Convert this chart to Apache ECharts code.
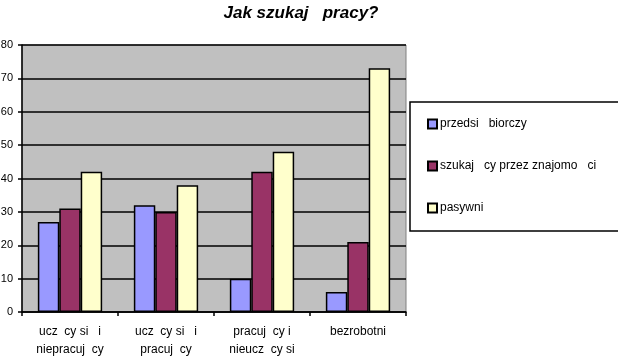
<!DOCTYPE html>
<html><head><meta charset="utf-8">
<script src="https://cdn.jsdelivr.net/npm/echarts@6/dist/echarts.min.js"></script>
<style>html,body{margin:0;padding:0;background:#fff}#c{width:618px;height:357px}</style>
</head><body><div id="c"></div>
<script>
var categories = ['ucz  cy si   i\nniepracuj  cy', 'ucz  cy si   i\npracuj  cy', 'pracuj  cy i\nnieucz  cy si', 'bezrobotni'];
var seriesNames = ['przedsi   biorczy', 'szukaj   cy przez znajomo   ci', 'pasywni'];
var przedsiebiorczy = [27, 32, 10, 6];
var przezZnajomosci = [31, 30, 42, 21];
var pasywni = [42, 38, 48, 73];
var yTicks = [0, 10, 20, 30, 40, 50, 60, 70, 80];
var colors = ['#9999ff', '#993366', '#ffffcc'];

var chart = echarts.init(document.getElementById('c'), null, {renderer: 'canvas'});
var font = 'Liberation Sans, Arial, sans-serif';
var values = [przedsiebiorczy, przezZnajomosci, pasywni];
chart.setOption({
  animation: false,
  backgroundColor: '#ffffff',
  title: {
    text: 'Jak szukaj   pracy?',
    left: 296, top: 0, textAlign: 'center',
    textStyle: {fontFamily: font, fontSize: 17, fontWeight: 'bold', fontStyle: 'italic', color: '#000'}
  },
  legend: {
    orient: 'vertical',
    left: 410, top: 102,
    padding: [16, 28, 17, 17],
    itemGap: 30,
    itemWidth: 9, itemHeight: 9,
    borderColor: '#000', borderWidth: 1.5,
    icon: 'rect',
    textStyle: {fontFamily: font, fontSize: 12, color: '#000', padding: [0,0,0,-2]},
    data: seriesNames
  },
  grid: {
    left: 22, right: 212, top: 45, bottom: 45,
    outerBoundsMode: 'none', containLabel: false,
    show: true, backgroundColor: '#c0c0c0', borderColor: '#808080', borderWidth: 1
  },
  xAxis: {
    type: 'category',
    data: categories,
    axisLine: {lineStyle: {color: '#000', width: 1.5}},
    axisTick: {show: true, length: 4, lineStyle: {color: '#000', width: 1.5}},
    axisLabel: {fontFamily: font, fontSize: 12, color: '#000', lineHeight: 18, margin: 11}
  },
  yAxis: {
    type: 'value', min: yTicks[0], max: yTicks[yTicks.length-1], interval: 10,
    axisLine: {show: true, lineStyle: {color: '#000', width: 1.5}},
    axisTick: {show: true, length: 4, lineStyle: {color: '#000', width: 1.5}},
    axisLabel: {fontFamily: font, fontSize: 11, color: '#000', margin: 9},
    splitLine: {show: true, lineStyle: {color: '#000', width: 1.5}}
  },
  series: seriesNames.map(function (n, i) {
    return {
      name: n, type: 'bar', data: values[i],
      barGap: '0%', barCategoryGap: '33%',
      itemStyle: {color: colors[i], borderColor: '#000', borderWidth: 1.5}
    };
  })
});
</script></body></html>
